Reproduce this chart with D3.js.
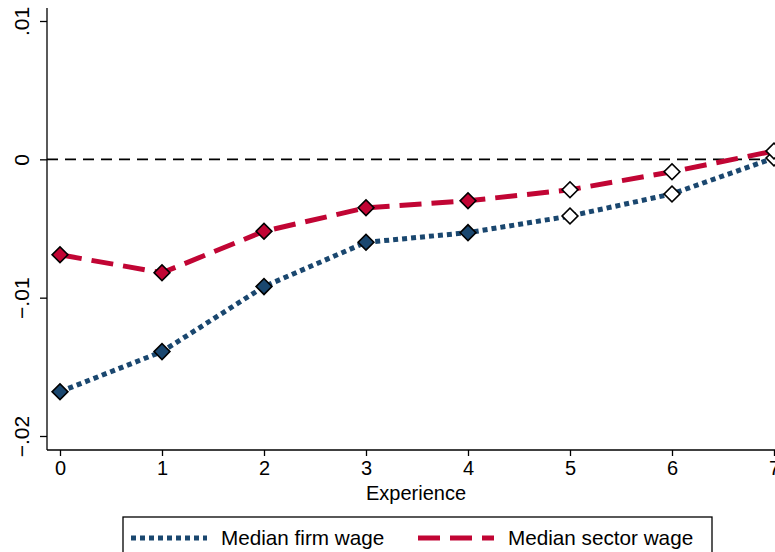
<!DOCTYPE html>
<html>
<head>
<meta charset="utf-8">
<script src="https://cdn.jsdelivr.net/npm/d3@7"></script>
<style>
  html, body { margin: 0; padding: 0; background: #fff; }
  svg { display: block; font-family: "Liberation Sans", Arial, sans-serif; }
</style>
</head>
<body>
<svg id="chart" width="775" height="552"></svg>
<script>
// Years of experience on the x axis
const experience = [0, 1, 2, 3, 4, 5, 6, 7];
// Coefficients for each wage measure
const firmWage   = [-0.0168, -0.0139, -0.0092, -0.0060, -0.0053, -0.0041, -0.0025, 0.0001];
const sectorWage = [-0.0069, -0.0082, -0.0052, -0.0035, -0.0030, -0.0022, -0.0009, 0.0006];
// Points estimated precisely (filled) vs. not (hollow)
const filled = [true, true, true, true, true, false, false, false];
// Axis ticks
const xTicks = [0, 1, 2, 3, 4, 5, 6, 7];
const yTicks = [-0.02, -0.01, 0, 0.01];
const yTickLabels = ["\u2212.02", "\u2212.01", "0", ".01"];
const seriesNames = ["Median firm wage", "Median sector wage"];

const blue = "#1a476f";
const red = "#c10534";
const fontSize = 20;

const svg = d3.select("#chart");
const x = d3.scaleLinear().domain([0, 7]).range([60, 774]);
const y = d3.scaleLinear().domain([-0.02, 0.01]).range([436, 21]);

const axisLeftX = 47, axisBottomY = 450;

// Zero reference line
svg.append("line")
  .attr("x1", axisLeftX).attr("x2", 775)
  .attr("y1", y(0)).attr("y2", y(0))
  .attr("stroke", "#000").attr("stroke-width", 1.8)
  .attr("stroke-dasharray", "11,7");

// Axes
const yAxis = d3.axisLeft(y).tickValues(yTicks).tickSize(7).tickPadding(6)
  .tickFormat((d, i) => yTickLabels[i]);
const gy = svg.append("g").attr("transform", `translate(${axisLeftX},0)`).call(yAxis);
gy.select(".domain").remove();
gy.append("line").attr("x1", 0).attr("x2", 0).attr("y1", 8).attr("y2", axisBottomY)
  .attr("stroke", "#000").attr("stroke-width", 1.3);
gy.selectAll(".tick line").attr("stroke", "#000").attr("stroke-width", 1.3);
gy.selectAll(".tick text")
  .attr("font-size", fontSize + 1).attr("fill", "#000")
  .attr("text-anchor", "middle")
  .attr("x", 0).attr("dy", 0)
  .attr("transform", "translate(-18,0) rotate(-90)");

const xAxis = d3.axisBottom(x).tickValues(xTicks).tickSize(6).tickPadding(5)
  .tickFormat(d3.format("d"));
const gx = svg.append("g").attr("transform", `translate(0,${axisBottomY})`).call(xAxis);
gx.select(".domain").remove();
gx.append("line").attr("x1", axisLeftX).attr("x2", 775).attr("y1", 0).attr("y2", 0)
  .attr("stroke", "#000").attr("stroke-width", 1.3);
gx.selectAll(".tick line").attr("stroke", "#000").attr("stroke-width", 1.3);
gx.selectAll(".tick text").attr("font-size", fontSize).attr("fill", "#000");

svg.append("text")
  .attr("x", 416).attr("y", 500)
  .attr("text-anchor", "middle").attr("font-size", fontSize)
  .text("Experience");

// Series lines
const line = d3.line().x((d, i) => x(experience[i])).y(d => y(d));
svg.append("path").datum(firmWage)
  .attr("d", line).attr("fill", "none")
  .attr("stroke", blue).attr("stroke-width", 5)
  .attr("stroke-dasharray", "5,4");
svg.append("path").datum(sectorWage)
  .attr("d", line).attr("fill", "none")
  .attr("stroke", red).attr("stroke-width", 5)
  .attr("stroke-dasharray", "22,10");

// Diamond markers
const diamond = d3.symbol().type(d3.symbolSquare).size(125);
function markers(values, color) {
  svg.append("g").selectAll("path").data(values).join("path")
    .attr("d", diamond)
    .attr("transform", (d, i) => `translate(${x(experience[i])},${y(d)}) rotate(45)`)
    .attr("fill", (d, i) => filled[i] ? color : "#fff")
    .attr("stroke", "#000").attr("stroke-width", 1.6);
}
markers(firmWage, blue);
markers(sectorWage, red);

// Legend
const legend = svg.append("g");
legend.append("rect")
  .attr("x", 123).attr("y", 517).attr("width", 589).attr("height", 50)
  .attr("fill", "#fff").attr("stroke", "#000").attr("stroke-width", 1.3);
const legendItems = [
  { name: seriesNames[0], color: blue, dash: "5,4", x0: 131 },
  { name: seriesNames[1], color: red, dash: "22,10", x0: 418 }
];
legendItems.forEach(it => {
  legend.append("line")
    .attr("x1", it.x0).attr("x2", it.x0 + 76)
    .attr("y1", 538).attr("y2", 538)
    .attr("stroke", it.color).attr("stroke-width", 5)
    .attr("stroke-dasharray", it.dash);
  legend.append("text")
    .attr("x", it.x0 + 90).attr("y", 545)
    .attr("font-size", fontSize + 0.7)
    .text(it.name);
});
</script>
</body>
</html>
